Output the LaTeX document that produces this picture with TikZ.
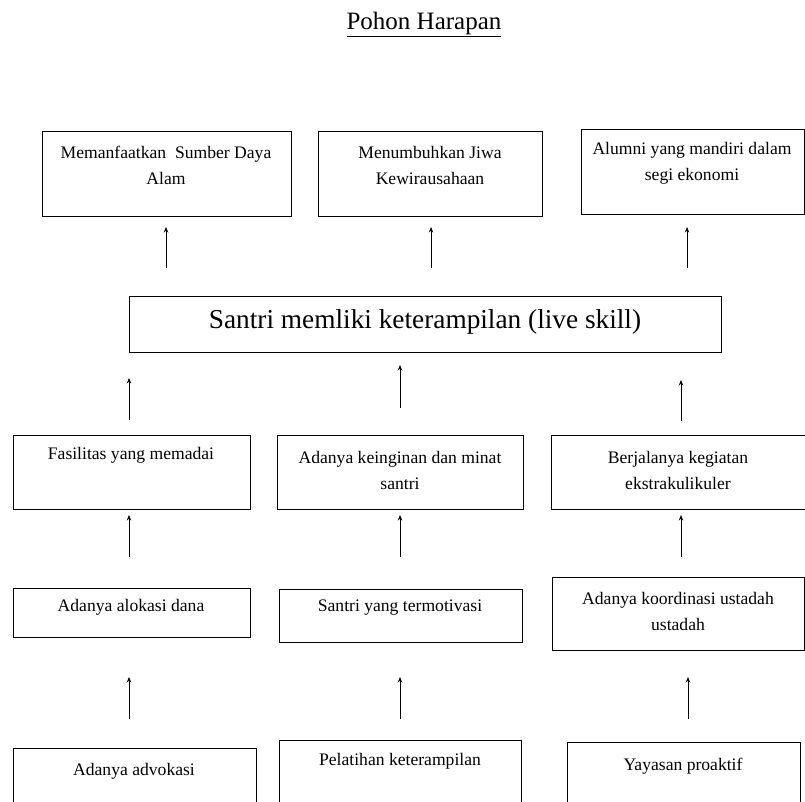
\documentclass[tikz,border=0pt]{standalone}
\usepackage{fontspec}
\setmainfont{Liberation Serif}
\usetikzlibrary{arrows.meta}
\tikzset{
  boxs/.style={draw, line width=0.9pt, inner sep=0pt, rectangle},
  txt/.style={align=center, inner sep=0pt, font=\fontsize{17.6}{26}\selectfont},
  arr/.style={line width=0.9pt, -{Stealth[length=5.5pt,width=4.5pt]}},
}
\newcommand\bx[5]{% name x1 y1 x2 y2
  \node[boxs, minimum width={(#4-#2)*1pt}, minimum height={(#5-#3)*1pt}] (#1) at ({(#2+#4)/2},{(#3+#5)/2}) {};
}
\begin{document}
\begin{tikzpicture}[x=1pt,y=-1pt]
\useasboundingbox (0,0) rectangle (805,802);
\clip (0,0) rectangle (805,802);
% title
\node[inner sep=0pt, font=\fontsize{25}{28}\selectfont] (title) at (424,24) {\underline{Pohon Harapan}};
% top row
\bx{A1}{42}{131}{291}{216}
\bx{A2}{318}{131}{542}{216}
\bx{A3}{581}{129}{804}{214}
\node[txt] (A1t) at (166,165) {Memanfaatkan\ \ Sumber Daya\\Alam};
\node[txt] (A2t) at (430,165) {Menumbuhkan Jiwa\\Kewirausahaan};
\node[txt] (A3t) at (692,163) {Alumni yang mandiri dalam\\segi ekonomi};
% main
\bx{S}{129}{296}{721}{352}
\node[inner sep=0pt, font=\fontsize{27.3}{32}\selectfont] (St) at (425,322) {Santri memliki keterampilan (live skill)};
% row B
\bx{B1}{13}{435}{250}{509}
\bx{B2}{277}{435}{523}{509}
\bx{B3}{551}{435}{805}{509}
\node[txt] (B1t) at (131,455) {Fasilitas yang memadai};
\node[txt] (B2t) at (400,470) {Adanya keinginan dan minat\\santri};
\node[txt] (B3t) at (678,470) {Berjalanya kegiatan\\ekstrakulikuler};
% row C
\bx{C1}{13}{588}{250}{637}
\bx{C2}{279}{589}{522}{642}
\bx{C3}{552}{577}{804}{650}
\node[txt] (C1t) at (131,607) {Adanya alokasi dana};
\node[txt] (C2t) at (400,608) {Santri yang termotivasi};
\node[txt] (C3t) at (678,611) {Adanya koordinasi ustadah\\ustadah};
% row D
\bx{D1}{13}{748}{256}{830}
\bx{D2}{279}{740}{521}{830}
\bx{D3}{567}{742}{800}{830}
\node[txt] (D1t) at (134,771) {Adanya advokasi};
\node[txt] (D2t) at (400,761) {Pelatihan keterampilan};
\node[txt] (D3t) at (683,766) {Yayasan proaktif};
% arrow coordinates
\coordinate (a1s) at (166,268); \coordinate (a1e) at (166,227);
\coordinate (a2s) at (431,268); \coordinate (a2e) at (431,227);
\coordinate (a3s) at (687,268); \coordinate (a3e) at (687,227);
\coordinate (b1s) at (129,420); \coordinate (b1e) at (129,378);
\coordinate (b2s) at (400,408); \coordinate (b2e) at (400,365);
\coordinate (b3s) at (681,421); \coordinate (b3e) at (681,380);
\coordinate (c1s) at (129,557); \coordinate (c1e) at (129,515);
\coordinate (c2s) at (400,557); \coordinate (c2e) at (400,515);
\coordinate (c3s) at (681,557); \coordinate (c3e) at (681,515);
\coordinate (d1s) at (129,719); \coordinate (d1e) at (129,677);
\coordinate (d2s) at (400,719); \coordinate (d2e) at (400,677);
\coordinate (d3s) at (688,719); \coordinate (d3e) at (688,677);
\foreach \p in {a1,a2,a3,b1,b2,b3,c1,c2,c3,d1,d2,d3}
  \draw[arr] (\p s) -- (\p e);
\end{tikzpicture}
\end{document}
